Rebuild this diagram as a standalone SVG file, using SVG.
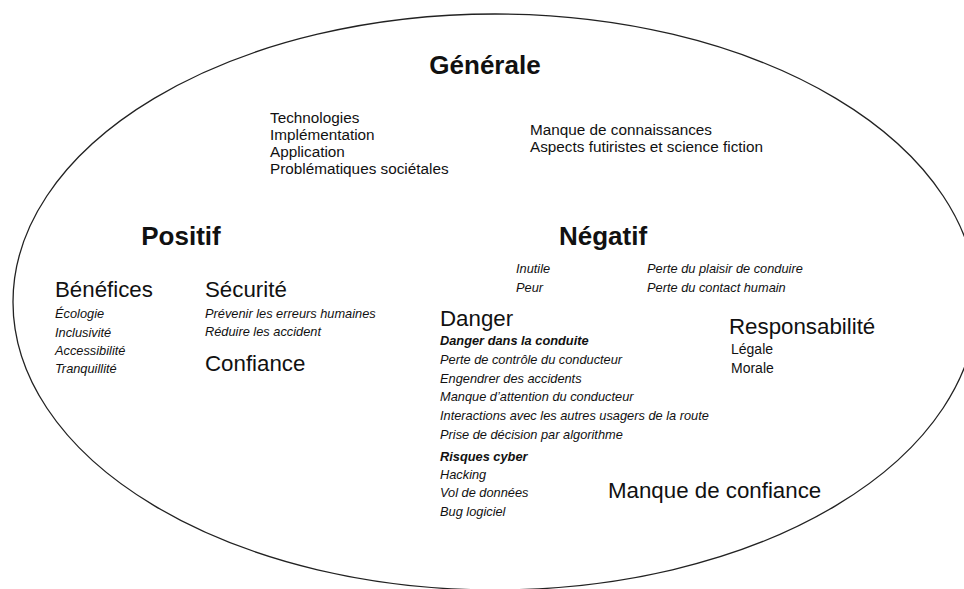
<svg xmlns="http://www.w3.org/2000/svg" width="964" height="589" viewBox="0 0 964 589">
<style>
text{font-family:"Liberation Sans",Arial,sans-serif;fill:#111}
.t{font-size:26px;font-weight:bold}
.h{font-size:22.3px}
.r{font-size:15.3px}
.s{font-size:14px}
.i{font-size:12.8px;font-style:italic}
.bi{font-size:12.8px;font-style:italic;font-weight:bold}
</style>
<rect width="964" height="589" fill="#fff"/>
<g id="connectors">
<ellipse cx="495" cy="302" rx="482" ry="288" fill="none" stroke="#222" stroke-width="1.3"/>
</g>
<g id="generale">
<text class="t" x="485" y="74" text-anchor="middle">Générale</text>
<text class="r" x="270" y="123">Technologies</text>
<text class="r" x="270" y="140">Implémentation</text>
<text class="r" x="270" y="157">Application</text>
<text class="r" x="270" y="174">Problématiques sociétales</text>
<text class="r" x="530" y="135">Manque de connaissances</text>
<text class="r" x="530" y="152">Aspects futiristes et science fiction</text>
</g>
<g id="positif">
<text class="t" x="181" y="245" text-anchor="middle">Positif</text>
</g>
<g id="benefices">
<text class="h" x="55" y="297">Bénéfices</text>
<text class="i" x="55" y="318">Écologie</text>
<text class="i" x="55" y="337">Inclusivité</text>
<text class="i" x="55" y="355">Accessibilité</text>
<text class="i" x="55" y="373">Tranquillité</text>
</g>
<g id="securite">
<text class="h" x="205" y="297">Sécurité</text>
<text class="i" x="205" y="318">Prévenir les erreurs humaines</text>
<text class="i" x="205" y="336">Réduire les accident</text>
</g>
<g id="confiance">
<text class="h" x="205" y="371">Confiance</text>
</g>
<g id="negatif">
<text class="t" x="603" y="245" text-anchor="middle">Négatif</text>
<text class="i" x="516" y="273">Inutile</text>
<text class="i" x="516" y="292">Peur</text>
<text class="i" x="647" y="273">Perte du plaisir de conduire</text>
<text class="i" x="647" y="292">Perte du contact humain</text>
</g>
<g id="danger">
<text class="h" x="440" y="326">Danger</text>
<text class="bi" x="440" y="345">Danger dans la conduite</text>
<text class="i" x="440" y="364">Perte de contrôle du conducteur</text>
<text class="i" x="440" y="383">Engendrer des accidents</text>
<text class="i" x="440" y="401">Manque d’attention du conducteur</text>
<text class="i" x="440" y="420">Interactions avec les autres usagers de la route</text>
<text class="i" x="440" y="439">Prise de décision par algorithme</text>
<text class="bi" x="440" y="461">Risques cyber</text>
<text class="i" x="440" y="479">Hacking</text>
<text class="i" x="440" y="497">Vol de données</text>
<text class="i" x="440" y="516">Bug logiciel</text>
</g>
<g id="responsabilite">
<text class="h" x="729" y="334">Responsabilité</text>
<text class="s" x="731" y="354">Légale</text>
<text class="s" x="731" y="373">Morale</text>
</g>
<g id="manque-confiance">
<text class="h" x="608" y="498">Manque de confiance</text>
</g>
</svg>
